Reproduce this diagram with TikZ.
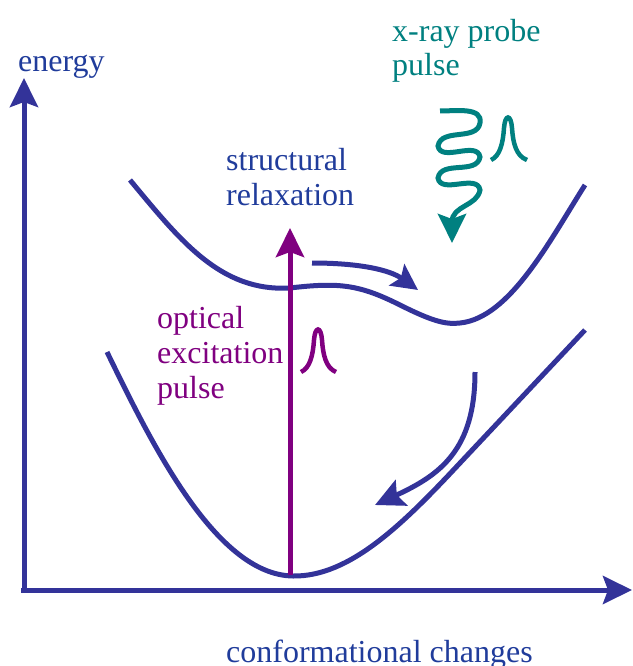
\documentclass[tikz,border=0pt]{standalone}
\usepackage{fontspec}
\setmainfont{Liberation Serif}
\usetikzlibrary{arrows.meta}
\definecolor{curveblue}{RGB}{51,51,153}
\definecolor{textblue}{RGB}{32,60,155}
\definecolor{optpurple}{RGB}{128,0,128}
\definecolor{xteal}{RGB}{0,128,128}
\tikzset{
  lbl/.style={anchor=base west, inner sep=0pt, font=\fontsize{32}{35}\selectfont},
  curve/.style={draw=curveblue, line width=5pt},
  bighead/.style={-{Stealth[length=29pt,width=28pt,inset=5pt]}},
  midhead/.style={-{Stealth[length=26pt,width=26pt,inset=5pt]}},
}
\begin{document}
\begin{tikzpicture}[x=1pt,y=-1pt]
\useasboundingbox (0,0) rectangle (632,666);
% axes
\coordinate (orig) at (24,590);
\coordinate (ytip) at (24,78);
\coordinate (xtip) at (632,590);
\draw[curve, bighead] (24,593) -- (ytip);
\draw[curve, bighead] (21,590) -- (xtip);
\node[lbl, text=textblue] (elab) at (18,72) {energy};
\node[lbl, text=textblue] (clab) at (226,662) {conformational changes};
% lower potential curve
\draw[curve] (107,352) .. controls (150,440) and (215,575) .. (293,576)
  .. controls (350,577) and (404,523) .. (460,463) -- (585,330);
% upper potential curve
\draw[curve] (130,180) .. controls (180,240) and (220,292) .. (290,288)
  .. controls (340,282) and (360,285) .. (400,305)
  .. controls (430,320) and (445,325) .. (460,323)
  .. controls (510,318) and (550,240) .. (585,185);
% relaxation arrows
\coordinate (r1s) at (312,263);
\coordinate (r1e) at (418,290);
\draw[curve, midhead] (r1s) .. controls (360,263) and (390,270) .. (r1e);
\coordinate (r2s) at (475,372);
\coordinate (r2e) at (375,505);
\draw[curve, bighead] (r2s) .. controls (475,450) and (440,475) .. (r2e);
\node[lbl, text=textblue] (s1) at (226,170) {structural};
\node[lbl, text=textblue] (s2) at (226,205) {relaxation};
% optical excitation
\coordinate (ob) at (290,575);
\coordinate (ot) at (290,228);
\draw[draw=optpurple, line width=5pt, bighead] (ob) -- (ot);
\draw[draw=optpurple, line width=4.5pt] (301,372) .. controls (310,368) and (313,355) .. (314,340)
  .. controls (315,326) and (321,326) .. (322,340)
  .. controls (323,355) and (326,368) .. (336,372);
\node[lbl, text=optpurple] (o1) at (157,328) {optical};
\node[lbl, text=optpurple] (o2) at (157,363) {excitation};
\node[lbl, text=optpurple] (o3) at (157,398) {pulse};
% x-ray probe
\coordinate (xs) at (440,111);
\coordinate (xe) at (452,243);
\draw[draw=xteal, line width=5pt, bighead] (xs) to[out=0,in=80] (480,123)
  to[out=-100,in=80] (438,146) to[out=-80,in=100] (480,157)
  to[out=-100,in=80] (438,178) to[out=-80,in=100] (480,190)
  to[out=-100,in=90] (452,222) -- (xe);
\draw[draw=xteal, line width=4.5pt] (491,160) .. controls (500,156) and (503,143) .. (504,128)
  .. controls (505,114) and (511,114) .. (512,128)
  .. controls (513,143) and (516,156) .. (527,160);
\node[lbl, text=xteal] (x1) at (392,42) {x-ray probe};
\node[lbl, text=xteal] (x2) at (392,76) {pulse};
\end{tikzpicture}
\end{document}
